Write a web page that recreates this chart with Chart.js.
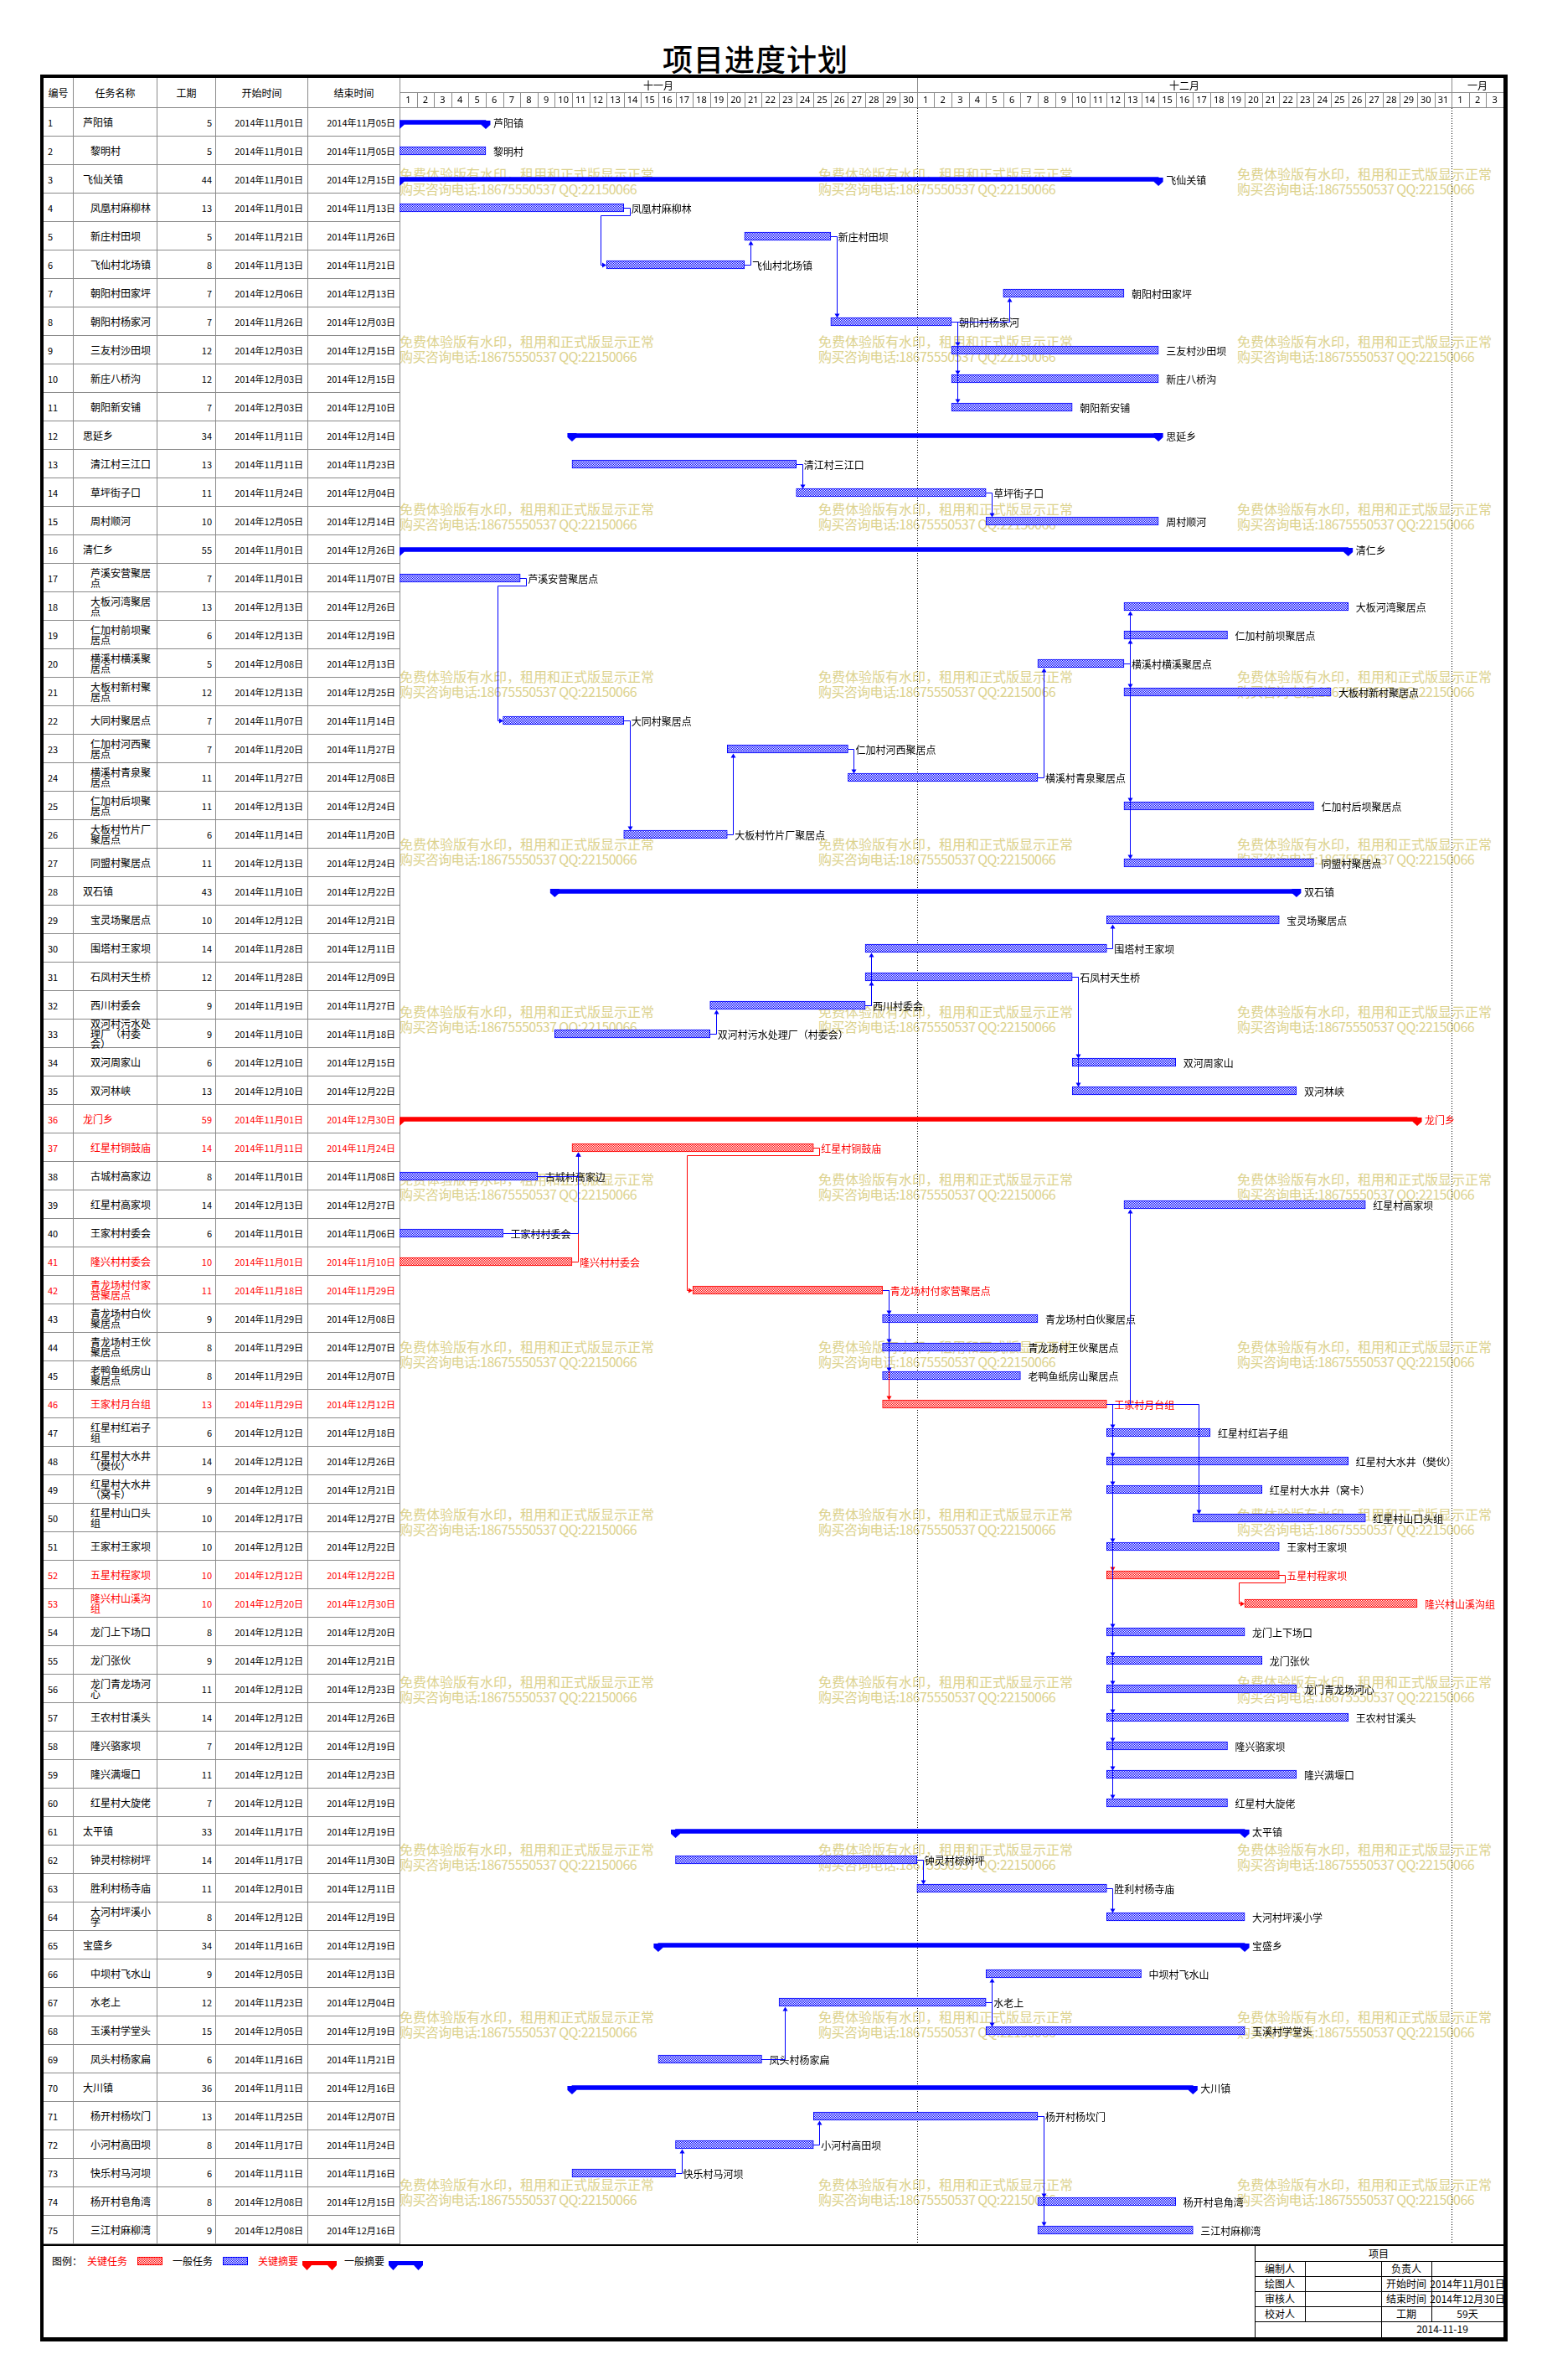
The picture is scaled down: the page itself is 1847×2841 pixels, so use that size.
<!DOCTYPE html>
<html lang="zh-CN">
<head>
<meta charset="utf-8">
<title>项目进度计划</title>
<script src="https://cdn.jsdelivr.net/npm/chart.js@4.4.1/dist/chart.umd.min.js"></script>
<style>
  html, body { margin: 0; padding: 0; background: #fff; }
  body {
    position: relative; width: 1847px; height: 2841px; overflow: hidden;
    font-family: "Noto Sans CJK SC", "Noto Sans", sans-serif; color: #000;
  }
  .abs { position: absolute; }
  #title {
    left: 700px; top: 46px; width: 404px; height: 46px; line-height: 46px;
    text-align: center; font-size: 36px; font-weight: 500; letter-spacing: 1px;
  }
  #frame {
    left: 48px; top: 89px; width: 1752px; height: 2706px; box-sizing: border-box;
    border: 4px solid #000; border-right-width: 5px; border-bottom-width: 5px;
  }
  .cell {
    position: absolute; box-sizing: border-box; display: flex; align-items: center;
    border-right: 1px solid #8a8a8a; border-bottom: 1px solid #8a8a8a;
    font-size: 11px; white-space: nowrap;
  }
  .hd { justify-content: center; font-size: 12px; }
  .num { justify-content: flex-end; padding-right: 5px; }
  .nm { font-size: 12px; line-height: 12px; white-space: normal; }
  .nm span { display: block; width: 74px; word-break: break-all; }
  .crit { color: #ff0000; }
  .wm {
    position: absolute; z-index: 1; font-size: 16px; line-height: 18px;
    color: #dcd28e; white-space: nowrap;
  }
  .wm span { display: block; }
  .wm span + span { letter-spacing: -0.6px; }
  #gantt { position: absolute; left: 477px; top: 93px; z-index: 2; }
  .ln { position: absolute; background: #000; }
  .tx { position: absolute; font-size: 12px; line-height: 16px; white-space: nowrap; }
</style>
</head>
<body>
<div id="title" class="abs">项目进度计划</div>
<div id="frame" class="abs"></div>
<div id="table"></div>
<div id="marks"></div>
<canvas id="gantt" width="1318" height="2586"></canvas>
<div id="bottom"></div>

<script>
(() => {
  "use strict";

// ---- data ----
const rowNames = [
  "芦阳镇", "黎明村", "飞仙关镇", "凤凰村麻柳林", "新庄村田坝", "飞仙村北场镇", "朝阳村田家坪",
  "朝阳村杨家河", "三友村沙田坝", "新庄八桥沟", "朝阳新安铺", "思延乡", "清江村三江口",
  "草坪街子口", "周村顺河", "清仁乡", "芦溪安营聚居点", "大板河湾聚居点", "仁加村前坝聚居点",
  "横溪村横溪聚居点", "大板村新村聚居点", "大同村聚居点", "仁加村河西聚居点", "横溪村青泉聚居点",
  "仁加村后坝聚居点", "大板村竹片厂聚居点", "同盟村聚居点", "双石镇", "宝灵场聚居点",
  "围塔村王家坝", "石凤村天生桥", "西川村委会", "双河村污水处理厂（村委会）", "双河周家山",
  "双河林峡", "龙门乡", "红星村铜鼓庙", "古城村高家边", "红星村高家坝", "王家村村委会",
  "隆兴村村委会", "青龙场村付家营聚居点", "青龙场村白伙聚居点", "青龙场村王伙聚居点",
  "老鸭鱼纸房山聚居点", "王家村月台组", "红星村红岩子组", "红星村大水井（樊伙）",
  "红星村大水井（窝卡）", "红星村山口头组", "王家村王家坝", "五星村程家坝", "隆兴村山溪沟组",
  "龙门上下场口", "龙门张伙", "龙门青龙场河心", "王农村甘溪头", "隆兴骆家坝", "隆兴满堰口",
  "红星村大旋佬", "太平镇", "钟灵村棕树坪", "胜利村杨寺庙", "大河村坪溪小学", "宝盛乡",
  "中坝村飞水山", "水老上", "玉溪村学堂头", "凤头村杨家扁", "大川镇", "杨开村杨坎门",
  "小河村高田坝", "快乐村马河坝", "杨开村皂角湾", "三江村麻柳湾"
];

const durations = [
  5, 5, 44, 13, 5, 8, 7, 7, 12, 12, 7, 34, 13, 11, 10, 55, 7, 13, 6, 5,
  12, 7, 7, 11, 11, 6, 11, 43, 10, 14, 12, 9, 9, 6, 13, 59, 14, 8, 14, 6,
  10, 11, 9, 8, 8, 13, 6, 14, 9, 10, 10, 10, 10, 8, 9, 11, 14, 7, 11, 7,
  33, 14, 11, 8, 34, 9, 12, 15, 6, 36, 13, 8, 6, 8, 9
];

const startDates = [
  "11-01", "11-01", "11-01", "11-01", "11-21", "11-13", "12-06", "11-26", "12-03", "12-03",
  "12-03", "11-11", "11-11", "11-24", "12-05", "11-01", "11-01", "12-13", "12-13", "12-08",
  "12-13", "11-07", "11-20", "11-27", "12-13", "11-14", "12-13", "11-10", "12-12", "11-28",
  "11-28", "11-19", "11-10", "12-10", "12-10", "11-01", "11-11", "11-01", "12-13", "11-01",
  "11-01", "11-18", "11-29", "11-29", "11-29", "11-29", "12-12", "12-12", "12-12", "12-17",
  "12-12", "12-12", "12-20", "12-12", "12-12", "12-12", "12-12", "12-12", "12-12", "12-12",
  "11-17", "11-17", "12-01", "12-12", "11-16", "12-05", "11-23", "12-05", "11-16", "11-11",
  "11-25", "11-17", "11-11", "12-08", "12-08"
];

const endDates = [
  "11-05", "11-05", "12-15", "11-13", "11-26", "11-21", "12-13", "12-03", "12-15", "12-15",
  "12-10", "12-14", "11-23", "12-04", "12-14", "12-26", "11-07", "12-26", "12-19", "12-13",
  "12-25", "11-14", "11-27", "12-08", "12-24", "11-20", "12-24", "12-22", "12-21", "12-11",
  "12-09", "11-27", "11-18", "12-15", "12-22", "12-30", "11-24", "11-08", "12-27", "11-06",
  "11-10", "11-29", "12-08", "12-07", "12-07", "12-12", "12-18", "12-26", "12-21", "12-27",
  "12-22", "12-22", "12-30", "12-20", "12-21", "12-23", "12-26", "12-19", "12-23", "12-19",
  "12-19", "11-30", "12-11", "12-19", "12-19", "12-13", "12-04", "12-19", "11-21", "12-16",
  "12-07", "11-24", "11-16", "12-15", "12-16"
];

const summaryRows = [1, 3, 12, 16, 28, 36, 61, 65, 70];
const criticalRows = [36, 37, 41, 42, 46, 52, 53];

// predecessor -> successor (row numbers)
const links = [
  [4, 6], [6, 5], [5, 8], [8, 7], [8, 9], [8, 10], [8, 11],
  [13, 14], [14, 15],
  [17, 22], [22, 26], [26, 23], [23, 24], [24, 20], [20, 18], [20, 19], [20, 21], [20, 25], [20, 27],
  [33, 32], [32, 30], [32, 31], [31, 34], [31, 35], [30, 29],
  [41, 37], [38, 37], [40, 37], [37, 42], [42, 46], [42, 43], [42, 44], [42, 45],
  [46, 52], [52, 53], [46, 39], [46, 47], [46, 48], [46, 49], [46, 50], [46, 51],
  [46, 54], [46, 55], [46, 56], [46, 57], [46, 58], [46, 59], [46, 60],
  [62, 63], [63, 64],
  [69, 67], [67, 66], [67, 68],
  [73, 72], [72, 71], [71, 74], [71, 75]
];

const months = ["十一月", "十二月", "一月"];
const monthNums = [11, 12, 1];
const monthDays = [30, 31, 3];

const watermarkLines = ["免费体验版有水印，租用和正式版显示正常", "购买咨询电话:18675550537 QQ:22150066"];

// ---- helpers ----
const BLUE = "#0000ff";
const RED = "#ff0000";
const GRID = "#8a8a8a";
const isSummary = (id) => summaryRows.includes(id);
const isCritical = (id) => criticalRows.includes(id);
const fullDate = (s) => `2014年${s.slice(0, 2)}月${s.slice(3)}日`;

const monthStart = [];
monthDays.reduce((acc, n, k) => { monthStart[k] = acc; return acc + n; }, 0);
const totalDays = monthDays.reduce((a, b) => a + b, 0);

function dayIndex(s) {
  const m = Number(s.slice(0, 2));
  const d = Number(s.slice(3));
  return monthStart[monthNums.indexOf(m)] + d - 1;
}

const rowIds = rowNames.map((_, i) => String(i + 1));
const startIdx = startDates.map(dayIndex);
const endIdx = startIdx.map((s, i) => s + durations[i]);

function el(tag, cls, style, text) {
  const e = document.createElement(tag);
  if (cls) e.className = cls;
  Object.assign(e.style, style || {});
  if (text != null) e.textContent = text;
  return e;
}

// ---- left table (html) ----
const table = document.getElementById("table");
const colLeft = [52, 88, 188, 258, 368];
const colWidth = [36, 100, 70, 110, 110];
const headers = ["编号", "任务名称", "工期", "开始时间", "结束时间"];
const HEAD_TOP = 93, HEAD_H = 36, ROW_TOP = 129, ROW_H = 34;

headers.forEach((h, c) => {
  table.appendChild(el("div", "cell hd", {
    left: colLeft[c] + "px", top: HEAD_TOP + "px", width: colWidth[c] + "px", height: HEAD_H + "px"
  }, h));
});

rowNames.forEach((name, i) => {
  const id = i + 1;
  const top = ROW_TOP + i * ROW_H;
  const crit = isCritical(id) ? " crit" : "";
  const base = (c) => ({ left: colLeft[c] + "px", top: top + "px", width: colWidth[c] + "px", height: ROW_H + "px" });

  table.appendChild(el("div", "cell" + crit, { ...base(0), paddingLeft: "5px" }, String(id)));

  const nm = el("div", "cell nm" + crit, { ...base(1), paddingLeft: (isSummary(id) ? 11 : 20) + "px" });
  nm.appendChild(el("span", "", {}, name));
  table.appendChild(nm);

  table.appendChild(el("div", "cell num" + crit, { ...base(2), paddingRight: "4px" }, String(durations[i])));
  table.appendChild(el("div", "cell num" + crit, base(3), fullDate(startDates[i])));
  table.appendChild(el("div", "cell num" + crit, base(4), fullDate(endDates[i])));
});

// ---- watermarks (behind the chart canvas) ----
const marks = document.getElementById("marks");
[477, 977, 1477].forEach((x) => {
  for (let k = 0; k < 13; k++) {
    const w = el("div", "wm", { left: x + "px", top: (198 + k * 200) + "px" });
    watermarkLines.forEach((t) => w.appendChild(el("span", "", {}, t)));
    marks.appendChild(w);
  }
});

// ---- bottom: line, legend, info block ----
const bottom = document.getElementById("bottom");
const line = (x, y, w, h, color) =>
  bottom.appendChild(el("div", "ln", { left: x + "px", top: y + "px", width: w + "px", height: h + "px", background: color || "#000" }));
const text = (x, y, s, color, align) => {
  const st = { top: (y - 8) + "px", color: color || "#000" };
  if (align === "center") Object.assign(st, { left: (x - 100) + "px", width: "200px", textAlign: "center" });
  else st.left = x + "px";
  bottom.appendChild(el("div", "tx", st, s));
};

line(52, 2679, 1743, 2);

text(62, 2699, "图例：");
text(104, 2699, "关键任务", RED);
text(206, 2699, "一般任务");
text(308, 2699, "关键摘要", RED);
text(411, 2699, "一般摘要");

const box = (x, color) => bottom.appendChild(el("div", "", {
  position: "absolute", left: x + "px", top: "2694px", width: "30px", height: "10px", boxSizing: "border-box",
  border: `1px solid ${color}`,
  background: `repeating-conic-gradient(${color} 0 25%, #fff 0 50%) 0 0 / 2px 2px`
}));
box(164, RED);
box(266, BLUE);

const summaryIcon = (x, color) => {
  const d = el("div", "", { position: "absolute", left: x + "px", top: "2693px" });
  d.innerHTML = `<svg width="41" height="13" viewBox="0 0 41 13"><path d="M0 0 H41 V5 L35.5 11 L30 5 H11 L5.5 11 L0 5 Z" fill="${color}"/></svg>`;
  bottom.appendChild(d);
};
summaryIcon(361, RED);
summaryIcon(464, BLUE);

// info block at bottom right
line(1498, 2680, 1, 110);
line(1558, 2699, 1, 72);
line(1649, 2699, 1, 91);
line(1709, 2699, 1, 72);
[2699, 2717, 2735, 2753, 2771].forEach((y) => line(1498, y, 297, 1));
text(1646, 2690, "项目", "#000", "center");
[["编制人", "负责人", ""], ["绘图人", "开始时间", "2014年11月01日"], ["审核人", "结束时间", "2014年12月30日"], ["校对人", "工期", "59天"]]
  .forEach((r, k) => {
    const y = 2708 + k * 18;
    text(1528, y, r[0], "#000", "center");
    text(1679, y, r[1], "#000", "center");
    if (r[2]) text(1752, y, r[2], "#000", "center");
  });
text(1722, 2780, "2014-11-19", "#000", "center");

// ---- gantt chart ----
const canvas = document.getElementById("gantt");
const ctx0 = canvas.getContext("2d");

function checker(color) {
  const t = document.createElement("canvas");
  t.width = 2; t.height = 2;
  const g = t.getContext("2d");
  g.fillStyle = "#fff"; g.fillRect(0, 0, 2, 2);
  g.fillStyle = color; g.fillRect(0, 0, 1, 1); g.fillRect(1, 1, 1, 1);
  return ctx0.createPattern(t, "repeat");
}

const pick = (test) => rowIds.map((_, i) => (test(i + 1) ? [startIdx[i], endIdx[i]] : null));

function drawLink(ctx, xs, ys, from, to, color) {
  const xE = Math.round(xs.getPixelForValue(endIdx[from - 1]));
  const xS = Math.round(xs.getPixelForValue(startIdx[to - 1]));
  const yP = Math.round(ys.getPixelForValue(from - 1)) + 0.5;
  const yT = Math.round(ys.getPixelForValue(to - 1)) + 0.5;
  ctx.strokeStyle = color;
  ctx.fillStyle = color;
  ctx.lineWidth = 1;
  ctx.beginPath();
  if (xS >= xE - 1) {
    const vx = xS + 7.5;
    const dir = yT > yP ? 1 : -1;
    const tip = yT - dir * 5;
    ctx.moveTo(xE, yP);
    ctx.lineTo(vx, yP);
    ctx.lineTo(vx, tip - dir * 4);
    ctx.stroke();
    ctx.beginPath();
    ctx.moveTo(vx, tip);
    ctx.lineTo(vx - 3, tip - dir * 5);
    ctx.lineTo(vx + 3, tip - dir * 5);
    ctx.closePath();
    ctx.fill();
  } else {
    const yM = yP + 9;
    ctx.moveTo(xE, yP);
    ctx.lineTo(xE + 7.5, yP);
    ctx.lineTo(xE + 7.5, yM);
    ctx.lineTo(xS - 6.5, yM);
    ctx.lineTo(xS - 6.5, yT);
    ctx.lineTo(xS - 4, yT);
    ctx.stroke();
    ctx.beginPath();
    ctx.moveTo(xS, yT);
    ctx.lineTo(xS - 5, yT - 3);
    ctx.lineTo(xS - 5, yT + 3);
    ctx.closePath();
    ctx.fill();
  }
}

const ganttPlugin = {
  id: "gantt",
  beforeDatasetsDraw(chart) {
    const { ctx, chartArea: a } = chart;
    const x = chart.scales.x;
    ctx.save();

    // timeline header: month row + day row
    ctx.strokeStyle = GRID;
    ctx.lineWidth = 1;
    ctx.beginPath();
    ctx.moveTo(a.left, 17.5); ctx.lineTo(a.right, 17.5);
    ctx.moveTo(a.left, a.top - 0.5); ctx.lineTo(a.right, a.top - 0.5);
    months.forEach((m, k) => {
      const x0 = monthStart[k];
      const x1 = x0 + monthDays[k];
      if (x1 < totalDays) {
        const px = Math.round(x.getPixelForValue(x1)) + 0.5;
        ctx.moveTo(px, 0); ctx.lineTo(px, a.top);
      }
      for (let j = 1; j < monthDays[k]; j++) {
        const px = Math.round(x.getPixelForValue(x0 + j)) + 0.5;
        ctx.moveTo(px, 18); ctx.lineTo(px, a.top);
      }
    });
    ctx.stroke();

    ctx.fillStyle = "#000";
    ctx.textAlign = "center";
    ctx.textBaseline = "middle";
    months.forEach((m, k) => {
      const x0 = monthStart[k];
      ctx.font = '12px "Noto Sans CJK SC"';
      ctx.fillText(m, (x.getPixelForValue(x0) + x.getPixelForValue(x0 + monthDays[k])) / 2, 9);
      ctx.font = '11px "Noto Sans", "Noto Sans CJK SC"';
      for (let j = 1; j <= monthDays[k]; j++) {
        ctx.fillText(String(j), x.getPixelForValue(x0 + j - 0.5), 27);
      }
    });

    // dotted month boundaries through the chart
    ctx.strokeStyle = "#000";
    ctx.setLineDash([1, 2]);
    ctx.beginPath();
    monthStart.slice(1).forEach((d) => {
      const px = Math.round(x.getPixelForValue(d)) + 0.5;
      ctx.moveTo(px, a.top); ctx.lineTo(px, a.bottom);
    });
    ctx.stroke();
    ctx.restore();
  },

  afterDatasetsDraw(chart) {
    const { ctx } = chart;
    const xs = chart.scales.x, ys = chart.scales.y;
    ctx.save();

    // summary end caps
    chart.data.datasets.forEach((ds, di) => {
      if (!ds.summary) return;
      ctx.fillStyle = ds.backgroundColor;
      chart.getDatasetMeta(di).data.forEach((bar, i) => {
        if (ds.data[i] == null) return;
        const top = Math.round(bar.y - bar.height / 2);
        [bar.base, bar.x].forEach((px) => {
          ctx.beginPath();
          ctx.moveTo(px - 5.5, top);
          ctx.lineTo(px + 5.5, top);
          ctx.lineTo(px + 5.5, top + 5);
          ctx.lineTo(px, top + 10);
          ctx.lineTo(px - 5.5, top + 5);
          ctx.closePath();
          ctx.fill();
        });
      });
    });

    // bar labels
    ctx.font = '12px "Noto Sans CJK SC"';
    ctx.textAlign = "left";
    ctx.textBaseline = "middle";
    rowNames.forEach((name, i) => {
      ctx.fillStyle = isCritical(i + 1) ? RED : "#000";
      ctx.fillText(name, xs.getPixelForValue(endIdx[i]) + 9, ys.getPixelForValue(i) + 1);
    });

    // dependency links: critical first, normal drawn over them
    const crit = links.filter(([a, b]) => isCritical(a) && isCritical(b));
    const norm = links.filter(([a, b]) => !(isCritical(a) && isCritical(b)));
    crit.forEach(([a, b]) => drawLink(ctx, xs, ys, a, b, RED));
    norm.forEach(([a, b]) => drawLink(ctx, xs, ys, a, b, BLUE));
    ctx.restore();
  }
};

new Chart(canvas, {
  type: "bar",
  data: {
    labels: rowIds,
    datasets: [
      {
        label: "一般任务", data: pick((id) => !isSummary(id) && !isCritical(id)),
        backgroundColor: checker(BLUE), borderColor: BLUE, borderWidth: 1, borderSkipped: false,
        barThickness: 10, grouped: false
      },
      {
        label: "关键任务", data: pick((id) => !isSummary(id) && isCritical(id)),
        backgroundColor: checker(RED), borderColor: RED, borderWidth: 1, borderSkipped: false,
        barThickness: 10, grouped: false
      },
      {
        label: "一般摘要", data: pick((id) => isSummary(id) && !isCritical(id)), summary: true,
        backgroundColor: BLUE, borderWidth: 0, barThickness: 5, grouped: false
      },
      {
        label: "关键摘要", data: pick((id) => isSummary(id) && isCritical(id)), summary: true,
        backgroundColor: RED, borderWidth: 0, barThickness: 5, grouped: false
      }
    ]
  },
  options: {
    responsive: false,
    animation: false,
    indexAxis: "y",
    layout: { padding: { top: 36, left: 0, right: 0, bottom: 0 } },
    plugins: { legend: { display: false }, tooltip: { enabled: false } },
    scales: {
      x: { type: "linear", min: 0, max: totalDays, display: false },
      y: { type: "category", display: false, offset: true }
    }
  },
  plugins: [ganttPlugin]
});
})();
</script>
</body>
</html>
